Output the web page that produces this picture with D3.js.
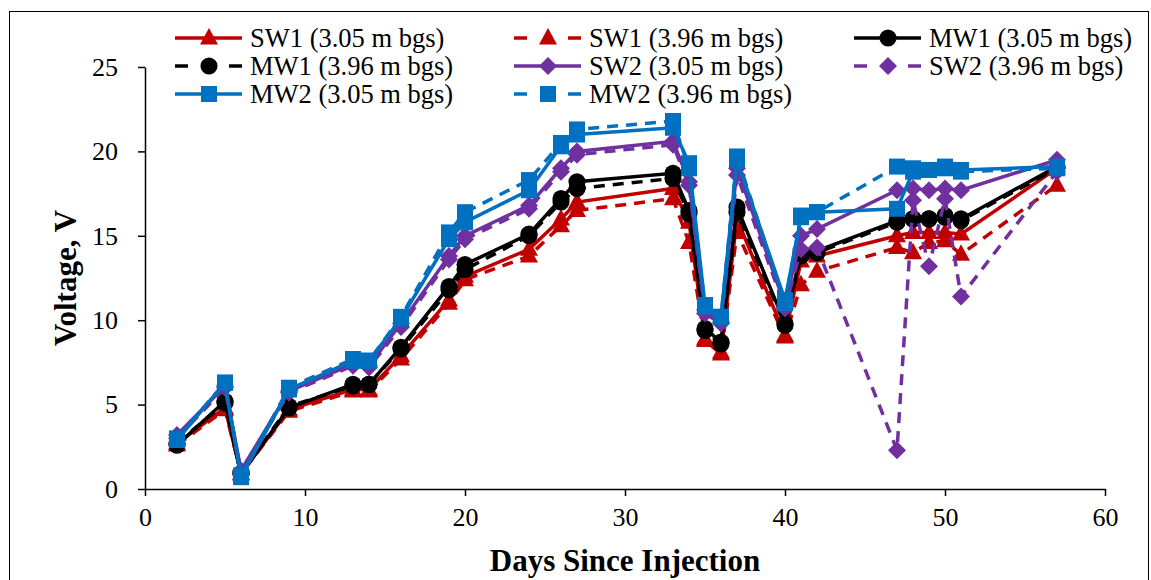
<!DOCTYPE html>
<html><head><meta charset="utf-8">
<script src="https://cdn.jsdelivr.net/npm/d3@7"></script>
<style>body{margin:0;background:#fff;} svg{display:block;}</style>
</head><body>
<svg id="c" width="1151" height="580"></svg>
<script>
const days = [2,5,6,9,13,14,16,19,20,24,26,27,33,34,35,36,37,40,41,42,47,48,49,50,51,57];
const sw1Shallow = [2.7,4.8,0.9,4.7,5.9,5.9,7.9,11.2,12.6,14.2,16.0,17.0,17.8,15.8,8.9,8.1,16.0,9.1,13.5,13.8,15.0,15.2,15.2,15.2,15.1,19.0];
const sw1Deep    = [2.6,4.7,0.9,4.6,5.8,5.8,7.7,11.0,12.4,13.8,15.6,16.5,17.2,14.6,8.8,8.0,15.2,9.0,12.1,12.9,14.3,14.0,14.6,14.7,13.9,18.0];
const mw1Shallow = [2.6,5.2,0.9,4.8,6.2,6.2,8.4,12.0,13.3,15.1,17.2,18.2,18.7,16.5,9.5,8.7,16.7,9.8,14.0,14.1,15.9,16.0,16.0,16.2,16.0,19.1];
const mw1Deep    = [2.7,5.1,0.9,4.9,6.1,6.2,8.3,11.8,13.0,15.0,17.0,17.8,18.4,16.3,9.4,8.6,16.4,9.7,13.8,14.0,15.8,16.0,16.0,16.1,15.9,19.0];
const sw2Shallow = [3.2,6.1,1.1,5.8,7.4,7.3,9.8,13.8,15.0,16.8,19.0,20.0,20.6,18.2,10.6,9.9,19.0,10.9,15.0,15.4,17.7,17.8,17.7,17.8,17.7,19.5];
const sw2Deep    = [3.0,6.0,1.0,5.7,7.3,7.2,9.6,13.6,14.8,16.6,18.8,19.8,20.4,18.0,10.4,9.8,18.6,10.7,14.2,14.3,2.3,17.1,13.2,17.2,11.4,18.8];
const mw2Shallow = [2.9,6.3,0.7,5.9,7.6,7.6,10.1,14.8,15.8,17.7,20.3,21.0,21.4,19.3,10.9,10.2,19.5,11.2,16.1,16.4,16.6,18.8,18.9,19.0,18.9,19.1];
const mw2Deep    = [3.0,6.3,0.8,6.0,7.7,7.6,10.2,15.2,16.4,18.3,20.5,21.3,21.8,19.0,10.8,10.2,19.7,11.0,16.2,16.4,19.1,19.0,18.9,19.1,18.8,19.0];
const seriesNames = ["SW1 (3.05 m bgs)","SW1 (3.96 m bgs)","MW1 (3.05 m bgs)","MW1 (3.96 m bgs)","SW2 (3.05 m bgs)","SW2 (3.96 m bgs)","MW2 (3.05 m bgs)","MW2 (3.96 m bgs)"];
const xTicks = [0,10,20,30,40,50,60];
const yTicks = [0,5,10,15,20,25];
const xTitle = "Days Since Injection";
const yTitle = "Voltage, V";

const values = [sw1Shallow,sw1Deep,mw1Shallow,mw1Deep,sw2Shallow,sw2Deep,mw2Shallow,mw2Deep];
const colors = ["#C00000","#C00000","#000000","#000000","#7030A0","#7030A0","#0070C0","#0070C0"];
const shapes = ["tri","tri","circ","circ","dia","dia","sq","sq"];
const dashed = [false,true,false,true,false,true,false,true];

const svg = d3.select("#c");
const font = "'Liberation Serif','Times New Roman',serif";
svg.append("rect").attr("x",9.5).attr("y",11.5).attr("width",1139).attr("height",600)
  .attr("fill","none").attr("stroke","#000").attr("stroke-width",1);

const x = d3.scaleLinear().domain([0,60]).range([145,1105]);
const y = d3.scaleLinear().domain([0,25]).range([489,67]);

const gx = svg.append("g").attr("transform","translate(0,489)")
  .call(d3.axisBottom(x).tickValues(xTicks).tickSize(7).tickSizeOuter(0).tickPadding(12));
const gy = svg.append("g").attr("transform","translate(145,0)")
  .call(d3.axisLeft(y).tickValues(yTicks).tickSize(7).tickSizeOuter(0).tickPadding(20));
[gx,gy].forEach(g=>{
  g.selectAll("path,line").attr("stroke","#000").attr("stroke-width",1.5);
  g.selectAll("text").attr("font-family",font).attr("font-size",26).attr("fill","#000");
});

svg.append("text").attr("x",625).attr("y",571).attr("text-anchor","middle")
  .attr("font-family",font).attr("font-weight","bold").attr("font-size",31).text(xTitle);
svg.append("text").attr("transform","translate(76,278) rotate(-90)").attr("text-anchor","middle")
  .attr("font-family",font).attr("font-weight","bold").attr("font-size",31).text(yTitle);

function markerPath(shape){
  if(shape==="tri") return "M0,-10L9,6.5L-9,6.5Z";
  if(shape==="circ") return d3.symbol(d3.symbolCircle,230)();
  if(shape==="dia") return "M0,-9L9,0L0,9L-9,0Z";
  return "M-8,-8L8,-8L8,8L-8,8Z";
}

const line = d3.line().x(d=>x(d[0])).y(d=>y(d[1]));
const plot = svg.append("g");
values.forEach((vals,i)=>{
  const pts = days.map((d,j)=>[d,vals[j]]);
  const g = plot.append("g");
  g.append("path").attr("d",line(pts)).attr("fill","none").attr("stroke",colors[i])
    .attr("stroke-width",3.5).attr("stroke-dasharray",dashed[i]?"11,8":null);
  g.selectAll("path.m").data(pts).join("path").attr("class","m")
    .attr("transform",d=>`translate(${x(d[0])},${y(d[1])})`)
    .attr("d",markerPath(shapes[i])).attr("fill",colors[i]);
});

// legend
const colX = [175,514,854];
const rowY = [38,66,94];
const leg = svg.append("g");
seriesNames.forEach((name,i)=>{
  const cx = colX[i%3], cy = rowY[Math.floor(i/3)];
  const g = leg.append("g").attr("transform",`translate(${cx},${cy})`);
  if(dashed[i]){
    g.append("line").attr("x1",0).attr("x2",13).attr("stroke",colors[i]).attr("stroke-width",3.5);
    g.append("line").attr("x1",54).attr("x2",67).attr("stroke",colors[i]).attr("stroke-width",3.5);
  } else {
    g.append("line").attr("x1",0).attr("x2",67).attr("stroke",colors[i]).attr("stroke-width",3.5);
  }
  g.append("path").attr("transform","translate(34,0)").attr("d",markerPath(shapes[i])).attr("fill",colors[i]);
  g.append("text").attr("x",75).attr("y",9).attr("font-family",font).attr("font-size",26.5).text(name);
});
</script>
</body></html>
